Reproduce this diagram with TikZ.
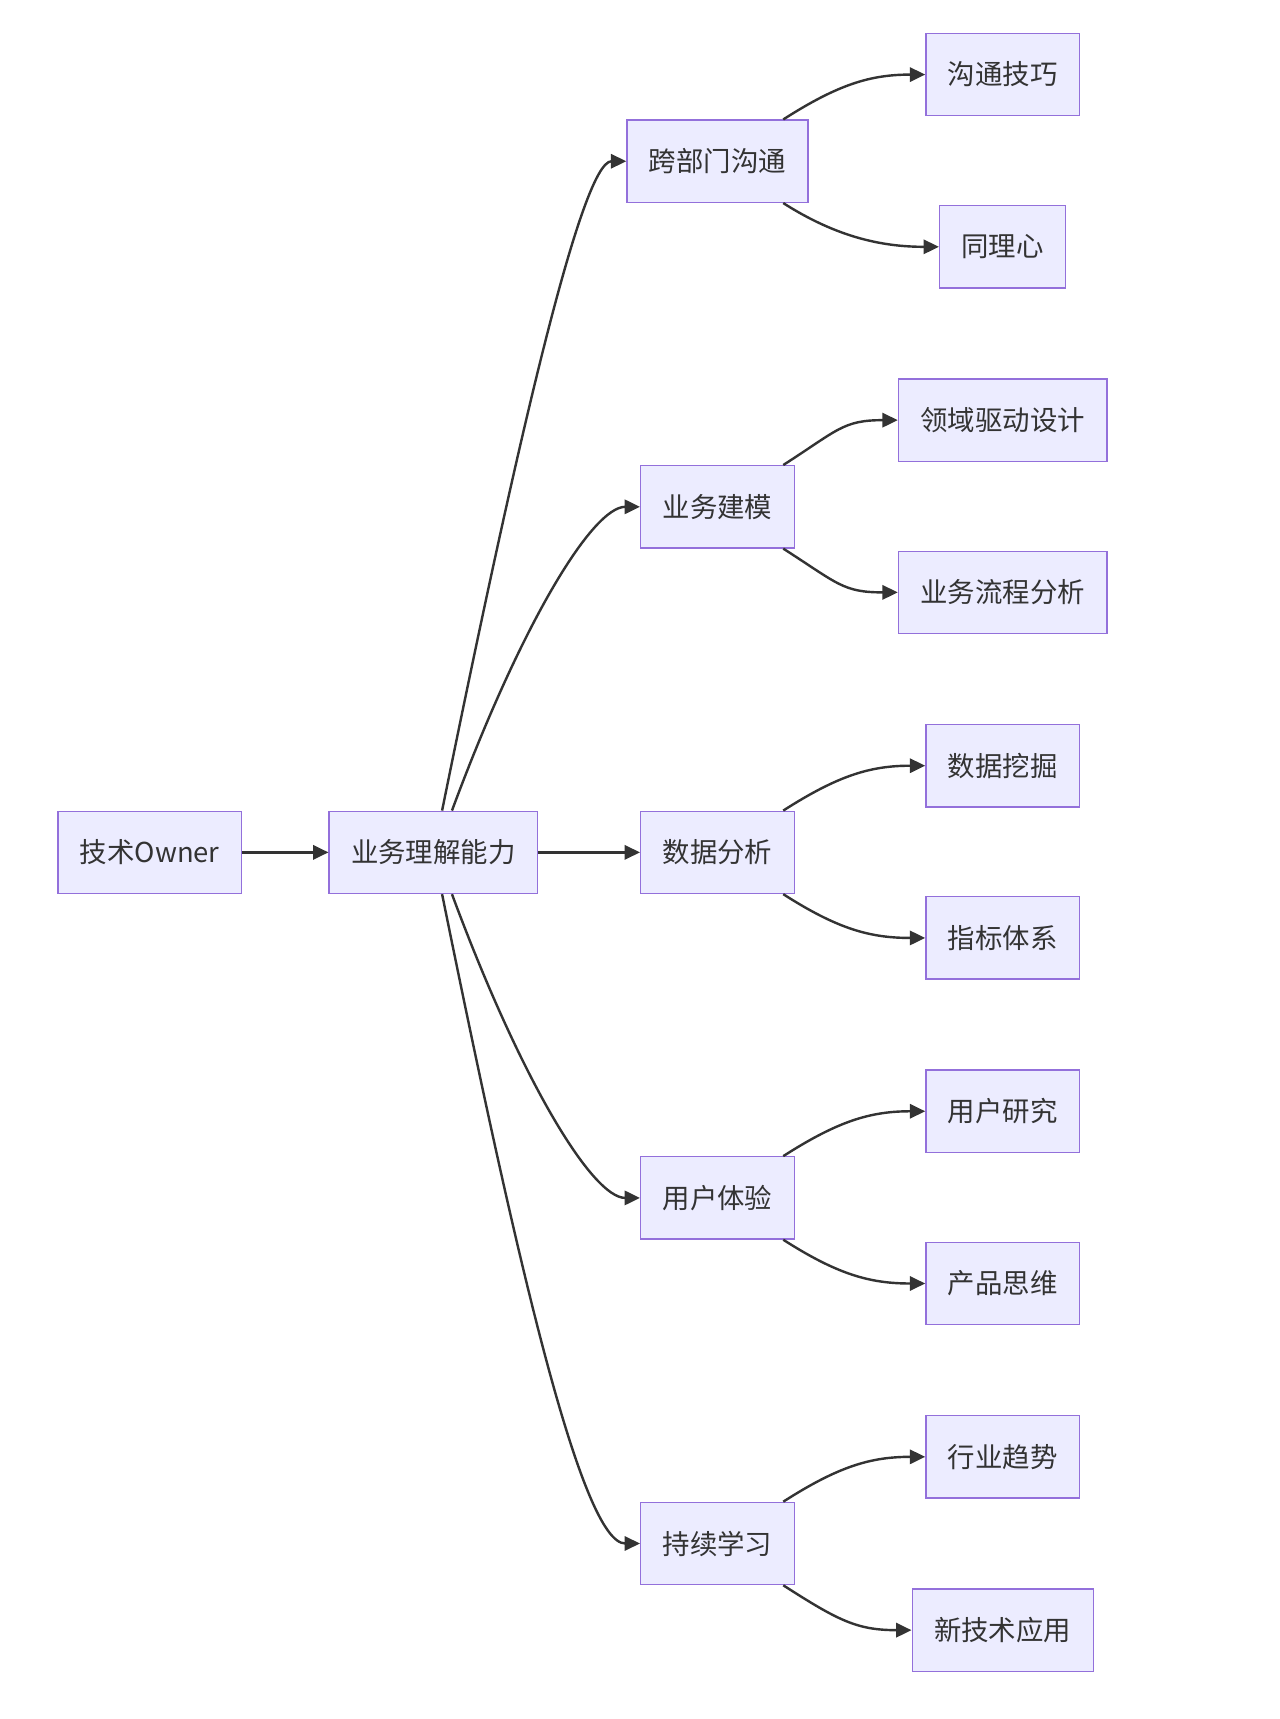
\documentclass[tikz,border=0pt]{standalone}
\usepackage{fontspec}
\setmainfont{Noto Sans CJK SC}
\usetikzlibrary{arrows.meta,calc}
\begin{document}
\begin{tikzpicture}[x=0.5pt,y=-0.5pt,
  box/.style={draw=#1, fill=boxfill, line width=0.6pt, minimum height=37.5pt, inner xsep=10pt, text=txt, font=\fontsize{12.5pt}{14pt}\selectfont},
  box/.default=boxline,
  ar/.style={draw=arr, line width=1.1pt, -{Triangle[length=7pt,width=6.5pt]}}]
\definecolor{boxfill}{HTML}{ECECFF}
\definecolor{boxline}{HTML}{9370DB}
\definecolor{arr}{HTML}{333333}
\definecolor{txt}{HTML}{333333}
\useasboundingbox (0,0) rectangle (1166,1567);
\node[box] (a) at (136.5,777) {技术Owner};
\node[box] (b) at (395,777) {业务理解能力};
\node[box] (c1) at (654,147) {跨部门沟通};
\node[box] (c2) at (654,462) {业务建模};
\node[box] (c3) at (654,777) {数据分析};
\node[box] (c4) at (654,1092) {用户体验};
\node[box] (c5) at (654,1407) {持续学习};
\node[box] (d1) at (914,68) {沟通技巧};
\node[box] (d2) at (914,225) {同理心};
\node[box] (d3) at (914,383) {领域驱动设计};
\node[box] (d4) at (914,540) {业务流程分析};
\node[box] (d5) at (914,698) {数据挖掘};
\node[box] (d6) at (914,855) {指标体系};
\node[box] (d7) at (914,1013) {用户研究};
\node[box] (d8) at (914,1170) {产品思维};
\node[box] (d9) at (914,1328) {行业趋势};
\node[box] (d10) at (914,1486) {新技术应用};
\draw[ar] (a) -- (b);
\draw[ar] (b) -- (c3);
\draw[ar] ($(b.north)+(8,0)$) .. controls ($(b.north)+(75,-330)$) and (530,147) .. (c1.west);
\draw[ar] ($(b.north)+(17,0)$) .. controls ($(b.north)+(80,-170)$) and (540,462) .. (c2.west);
\draw[ar] ($(b.south)+(8,0)$) .. controls ($(b.south)+(75,330)$) and (530,1407) .. (c5.west);
\draw[ar] ($(b.south)+(17,0)$) .. controls ($(b.south)+(80,170)$) and (540,1092) .. (c4.west);
\foreach \c/\u/\l in {c1/d1/d2,c2/d3/d4,c3/d5/d6,c4/d7/d8,c5/d9/d10}{
  \draw[ar] ($(\c.north)+(60,0)$) .. controls ($(\c.north)+(110,-32)$) and ($(\u.west)+(-50,0)$) .. (\u.west);
  \draw[ar] ($(\c.south)+(60,0)$) .. controls ($(\c.south)+(110,32)$) and ($(\l.west)+(-50,0)$) .. (\l.west);
}
\end{tikzpicture}
\end{document}
